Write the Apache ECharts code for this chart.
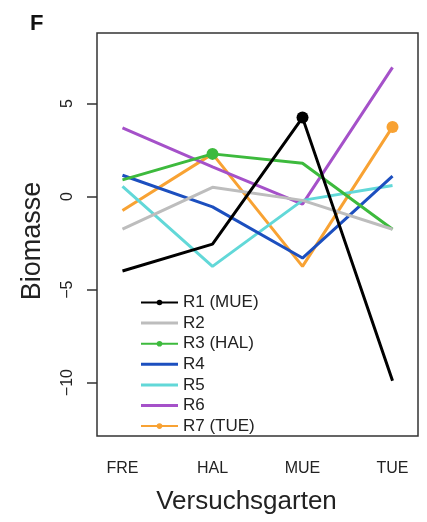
<!DOCTYPE html>
<html>
<head>
    <meta charset="utf-8" />
    <style type="text/css">
        body, html, #chart {width: 100%; height: 100%; overflow: hidden; margin: 0; background: #fff;}
    </style>
    <title>Biomasse</title>
</head>
<body>
<div id="chart"></div>
<script src="https://cdn.jsdelivr.net/npm/echarts@6/dist/echarts.min.js"></script>
<script type="text/javascript">
    // sites on the x axis
    var sites = ['FRE', 'HAL', 'MUE', 'TUE'];
    var yTicks = [-10, -5, 0, 5];

    var names = ['R1 (MUE)', 'R2', 'R3 (HAL)', 'R4', 'R5', 'R6', 'R7 (TUE)'];
    var r1 = [-4.0, -2.55, 4.25, -9.9];
    var r2 = [-1.75, 0.5, -0.2, -1.75];
    var r3 = [0.9, 2.3, 1.8, -1.75];
    var r4 = [1.15, -0.55, -3.3, 1.1];
    var r5 = [0.55, -3.75, -0.2, 0.6];
    var r6 = [3.7, 1.6, -0.4, 6.95];
    var r7 = [-0.75, 2.3, -3.75, 3.75];
    var colors = ['#000000', '#bdbdbd', '#3dba3d', '#1c4fbf', '#62d8d8', '#a551c9', '#f8a233'];
    // which site gets the big dot (-1 = none)
    var dotAt = [2, -1, 1, -1, -1, -1, 3];

    var allValues = [r1, r2, r3, r4, r5, r6, r7];

    var series = allValues.map(function (vals, k) {
        return {
            name: names[k],
            type: 'line',
            symbol: dotAt[k] < 0 ? 'none' : 'circle',
            symbolSize: 0,
            color: colors[k],
            lineStyle: {width: 3, color: colors[k]},
            z: 10 - k,
            silent: true,
            data: vals.map(function (v, i) {
                if (i === dotAt[k]) {
                    return {value: [i + 1, v], symbolSize: 12};
                }
                return [i + 1, v];
            })
        };
    });

    // plain line icon for the series without a dot
    var legendData = names.map(function (n, k) {
        if (dotAt[k] < 0) {
            return {name: n, icon: 'path://M0,0L37,0L37,3L0,3Z'};
        }
        return {name: n};
    });

    var chart = echarts.init(document.getElementById('chart'));
    chart.setOption({
        animation: false,
        textStyle: {fontFamily: 'Liberation Sans, Arial, sans-serif'},
        grid: {
            left: 97, top: 33, width: 321, height: 403,
            show: true, borderColor: '#333', borderWidth: 1.5,
            containLabel: false
        },
        title: {
            text: 'F', left: 25, top: 8,
            textStyle: {fontSize: 22, fontWeight: 'bold', color: '#111'}
        },
        legend: {
            orient: 'vertical',
            left: 135, top: 289,
            itemWidth: 37, itemHeight: 7,
            itemGap: 3.6,
            data: legendData,
            textStyle: {fontSize: 17, color: '#222', lineHeight: 17}
        },
        xAxis: {
            type: 'value',
            min: 0.717, max: 4.283,
            name: 'Versuchsgarten',
            nameLocation: 'middle',
            nameGap: 53,
            nameTextStyle: {fontSize: 26, color: '#222', padding: [0, 22, 0, 0]},
            axisLine: {show: false},
            axisTick: {show: false},
            splitLine: {show: false},
            axisLabel: {
                customValues: [1, 2, 3, 4],
                margin: 25,
                fontSize: 16, color: '#222',
                formatter: function (v) { return sites[Math.round(v) - 1]; }
            }
        },
        yAxis: {
            type: 'value',
            min: -12.87, max: 8.8,
            name: 'Biomasse',
            nameLocation: 'middle',
            nameGap: 51,
            nameTextStyle: {fontSize: 27, color: '#222', padding: [0, 13, 0, 0]},
            axisLine: {show: false},
            splitLine: {show: false},
            axisTick: {
                customValues: yTicks,
                inside: false, length: 10,
                lineStyle: {color: '#333', width: 1.5}
            },
            axisLabel: {
                customValues: yTicks,
                rotate: 90,
                margin: 21,
                fontSize: 16, color: '#222',
                formatter: function (v) { return String(v).replace('-', '\u2212'); }
            }
        },
        series: series
    });
</script>
</body>
</html>
